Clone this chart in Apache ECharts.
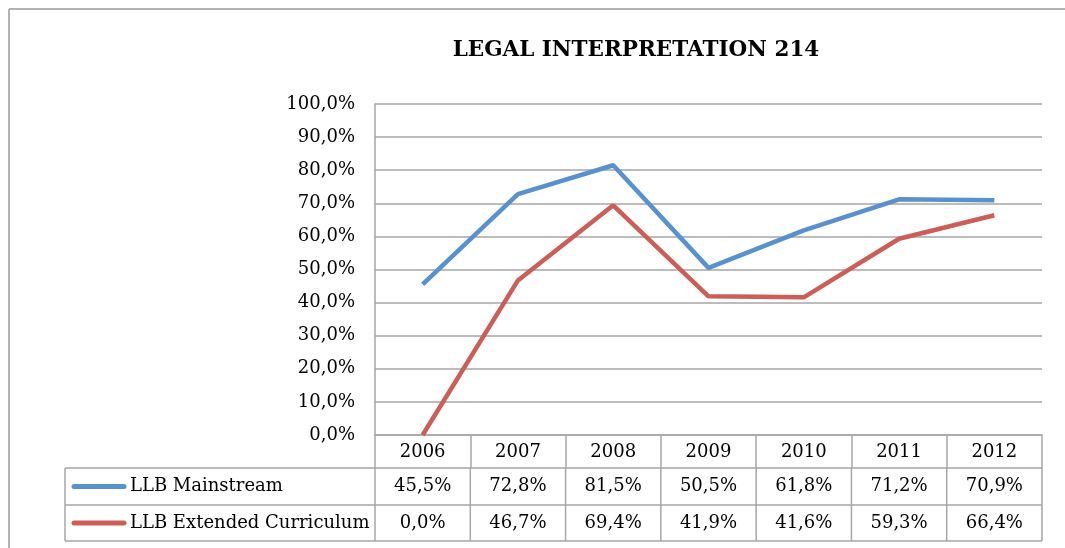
<!DOCTYPE html>
<html>
<head>
<meta charset="utf-8">
<title>Legal Interpretation 214</title>
<script src="https://cdn.jsdelivr.net/npm/echarts@6/dist/echarts.min.js"></script>
<style>
  html, body { margin: 0; padding: 0; background: #fff; overflow: hidden; }
  #main { width: 1065px; height: 548px; }
</style>
</head>
<body>
<div id="main"></div>
<script>
// data
const years = ['2006', '2007', '2008', '2009', '2010', '2011', '2012'];
const mainstream = [45.5, 72.8, 81.5, 50.5, 61.8, 71.2, 70.9];
const extended = [0.0, 46.7, 69.4, 41.9, 41.6, 59.3, 66.4];
const seriesNames = ['LLB Mainstream', 'LLB Extended Curriculum'];
const colors = ['#5791cf', '#cd5e57'];

const FONT = 'DejaVu Serif';
const GRAY = '#a6a6a6';

// number with comma decimal, like 45,5%
function pct(v) {
  return v.toFixed(1).replace('.', ',') + '%';
}

const chart = echarts.init(document.getElementById('main'));

const option = {
  animation: false,
  color: colors,
  title: {
    text: 'LEGAL INTERPRETATION 214',
    left: 631,
    textAlign: 'center',
    top: 34,
    textStyle: { fontFamily: FONT, fontWeight: 'bold', fontSize: 21.5, color: '#000' }
  },
  grid: { left: 375, right: 23, top: 104, bottom: 113 },
  xAxis: {
    type: 'category',
    data: years,
    boundaryGap: true,
    axisLine: { lineStyle: { color: GRAY, width: 1.5 } },
    axisTick: { show: true, length: 33, lineStyle: { color: GRAY, width: 1.5 } },
    axisLabel: { fontFamily: FONT, fontSize: 18, color: '#000', margin: 8 }
  },
  yAxis: {
    type: 'value',
    min: 0,
    max: 100,
    interval: 10,
    axisLine: { show: true, lineStyle: { color: GRAY, width: 1.5 } },
    axisTick: { show: false },
    splitLine: { lineStyle: { color: GRAY, width: 1.5 } },
    axisLabel: {
      fontFamily: FONT, fontSize: 18, color: '#000', margin: 20,
      formatter: v => pct(v)
    }
  },
  series: [
    {
      name: seriesNames[0],
      type: 'line',
      data: mainstream,
      symbol: 'none',
      lineStyle: { width: 4.5, color: colors[0] }
    },
    {
      name: seriesNames[1],
      type: 'line',
      data: extended,
      symbol: 'none',
      lineStyle: { width: 4.5, color: colors[1] }
    }
  ]
};
chart.setOption(option);

// data table under the plot, positioned from the category axis
const rows = [mainstream, extended];
const c0 = chart.convertToPixel({ xAxisIndex: 0 }, 0);
const c1 = chart.convertToPixel({ xAxisIndex: 0 }, 1);
const band = c1 - c0;
const xStart = c0 - band / 2;
const xEnd = xStart + band * years.length;
const tableLeft = 65;
const rowLines = [468, 505, 541];
const els = [];

// outer chart border: only top and left are in the frame
els.push({
  type: 'line',
  shape: { x1: 9, y1: 9, x2: 1065, y2: 9 },
  style: { stroke: '#9a9a9a', lineWidth: 1.5 }
});
els.push({
  type: 'line',
  shape: { x1: 9, y1: 9, x2: 9, y2: 548 },
  style: { stroke: '#9a9a9a', lineWidth: 1.5 }
});

rowLines.forEach(y => {
  els.push({
    type: 'line',
    shape: { x1: tableLeft, y1: y, x2: xEnd, y2: y },
    style: { stroke: GRAY, lineWidth: 1.5 }
  });
});
els.push({
  type: 'line',
  shape: { x1: tableLeft, y1: rowLines[0], x2: tableLeft, y2: rowLines[2] },
  style: { stroke: GRAY, lineWidth: 1.5 }
});
for (let i = 0; i <= years.length; i++) {
  const x = xStart + band * i;
  els.push({
    type: 'line',
    shape: { x1: x, y1: rowLines[0], x2: x, y2: rowLines[2] },
    style: { stroke: GRAY, lineWidth: 1.5 }
  });
}

rows.forEach((vals, r) => {
  const yMid = (rowLines[r] + rowLines[r + 1]) / 2;
  // legend key + series name
  els.push({
    type: 'line',
    shape: { x1: 74, y1: yMid, x2: 124, y2: yMid },
    style: { stroke: colors[r], lineWidth: 5, lineCap: 'round' }
  });
  els.push({
    type: 'text',
    x: 130,
    y: yMid,
    style: {
      text: seriesNames[r], fontFamily: FONT, fontSize: 18, fill: '#000',
      textAlign: 'left', textVerticalAlign: 'middle'
    }
  });
  vals.forEach((v, i) => {
    els.push({
      type: 'text',
      x: chart.convertToPixel({ xAxisIndex: 0 }, i),
      y: yMid,
      style: {
        text: pct(v), fontFamily: FONT, fontSize: 18, fill: '#000',
        textAlign: 'center', textVerticalAlign: 'middle'
      }
    });
  });
});

chart.setOption({ graphic: { elements: els } });
</script>
</body>
</html>
